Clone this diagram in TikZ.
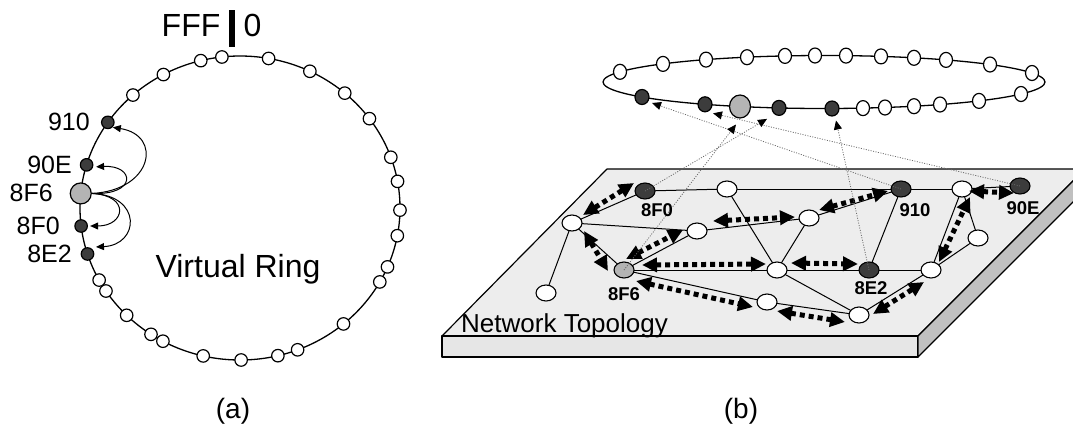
\documentclass[tikz,border=0pt]{standalone}
\usepackage{fontspec}
\setmainfont{Liberation Sans}
\usetikzlibrary{shapes.geometric,arrows.meta,calc}
\definecolor{dk}{HTML}{3C3C3C}
\definecolor{gr}{HTML}{B4B4B4}
\definecolor{topf}{HTML}{EDEDED}
\definecolor{frontf}{HTML}{E6E6E6}
\definecolor{sidef}{HTML}{C0C0C0}
\definecolor{dotc}{HTML}{6A6A6A}
\begin{document}
\begin{tikzpicture}[x=1pt,y=-1pt,line join=round,
  rw/.style={circle,draw,fill=white,line width=1.2pt,minimum size=12.5pt,inner sep=0pt},
  rd/.style={rw,fill=dk},
  rg/.style={circle,draw,fill=gr,line width=1.2pt,minimum size=21pt,inner sep=0pt},
  tw/.style={ellipse,draw,fill=white,line width=1.2pt,minimum width=13pt,minimum height=15pt,inner sep=0pt},
  td/.style={tw,fill=dk,minimum width=14pt},
  tg/.style={ellipse,draw,fill=gr,line width=1.2pt,minimum width=21pt,minimum height=23pt,inner sep=0pt},
  pw/.style={ellipse,draw,fill=white,line width=1.1pt,minimum width=20pt,minimum height=16pt,inner sep=0pt},
  pd/.style={pw,fill=dk},
  pg/.style={pw,fill=gr},
  lnk/.style={line width=1pt},
  dbl/.style={line width=5pt,dash pattern=on 5pt off 4pt,{Triangle[length=15pt,width=14pt]}-{Triangle[length=15pt,width=14pt]}},
  dotl/.style={dotc,line width=0.8pt,dash pattern=on 1pt off 1.5pt,-{Triangle[length=9pt,width=8pt,color=black]}},
  carr/.style={line width=1pt,-{Triangle[length=8pt,width=7pt]}},
  lbl/.style={inner sep=0pt,font=\fontsize{25}{28}\selectfont},
  plbl/.style={inner sep=0pt,font=\fontsize{18.5}{20}\selectfont\bfseries},
  big/.style={inner sep=0pt,font=\fontsize{32}{36}\selectfont}]
\useasboundingbox (0,0) rectangle (1073,424);
\clip (0,0) rectangle (1073,424);

% ---------------- (a) virtual ring ----------------
\draw[line width=1.3pt] (240,208) ellipse [x radius=160, y radius=152];
\foreach \a [count=\i] in {-104.2,-96.5,-79.7,-64.1,-49.1,-36,-19.5,-10.1,0.8,10.5,22.8,29.1,49.7,68.9,76.3,89.6,103.3,118.8,123.8,135.1,146.9,151.7,-118.6,-132}
  \node[rw] (lw\i) at ({240+160*cos(\a)},{208+152*sin(\a)}) {};
\node[rd] (l910) at ({240+160*cos(-145.7)},{208+152*sin(-145.7)}) {};
\node[rd] (l90E) at ({240+160*cos(-163.5)},{208+152*sin(-163.5)}) {};
\node[rg] (l8F6) at ({240+160*cos(-174.5)},{208+152*sin(-174.5)}) {};
\node[rd] (l8F0) at ({240+160*cos(173.2)},{208+152*sin(173.2)}) {};
\node[rd] (l8E2) at ({240+160*cos(162.4)},{208+152*sin(162.4)}) {};

\draw[carr] (l8F6.east) .. controls ($(l8F6)+(72,-3)$) and ($(l910)+(55,13)$) .. ($(l910)+(5,5)$);
\draw[carr] (l8F6.east) .. controls ($(l8F6)+(57,2)$) and ($(l90E)+(48,0)$) .. ($(l90E)+(9.5,2)$);
\draw[carr] (l8F6.east) .. controls ($(l8F6)+(50,2)$) and ($(l8F0)+(44,0)$) .. ($(l8F0)+(9,0)$);
\draw[carr] (l8F6.east) .. controls ($(l8F6)+(62,2)$) and ($(l8E2)+(52,-9)$) .. ($(l8E2)+(8.5,-7)$);

\node[lbl,anchor=east] (t1l) at (90,122) {910};
\node[lbl,anchor=east] (t2l) at (72,165) {90E};
\node[lbl,anchor=east] (t3l) at (53,193) {8F6};
\node[lbl,anchor=east] (t4l) at (60,226) {8F0};
\node[lbl,anchor=east] (t5l) at (72,254) {8E2};

\node[big,anchor=base west] (fff) at (161.5,36) {FFF};
\fill (229,10) rectangle (234.5,47);
\node[big,anchor=base west] (zero) at (243.5,36) {0};
\node[big,anchor=base] (vr) at (238,277) {Virtual Ring};
\node[inner sep=0pt,anchor=base,font=\fontsize{28}{30}\selectfont] (capa) at (233,418) {(a)};

% ---------------- (b) top ring ----------------
\draw[line width=1.3pt] (824,82) ellipse [x radius=221, y radius=26.5];
\foreach \x/\y [count=\i] in {620/71.8,663/63.9,706/59.6,747/57.2,785/55.9,815/55.5,846/55.6,881/56.4,914/57.8,946/59.9,990/64.5,1032/73,863/108.1,885/107.5,914/106.2,940/104.5,979/100.9,1021/94}
  \node[tw] (tw\i) at (\x,\y) {};
\node[td] (t910) at (642,97) {};
\node[td] (t90E) at (705,104.3) {};
\node[tg] (t8F6) at (740,106.5) {};
\node[td] (t8F0) at (779,107.9) {};
\node[td] (t8E2) at (832,108.5) {};

% ---------------- (b) platform ----------------
\filldraw[fill=topf,line width=1.2pt] (607,169) -- (1085,169) -- (918,336) -- (442,336) -- cycle;
\filldraw[fill=frontf,line width=1.2pt] (442,336) -- (918,336) -- (918,357) -- (442,357) -- cycle;
\filldraw[fill=sidef,line width=1.2pt] (918,336) -- (1085,169) -- (1085,190) -- (918,357) -- cycle;

\node[inner sep=0pt,anchor=base west,font=\fontsize{26}{28}\selectfont] (nt) at (461,332) {Network Topology};

\coordinate (c8F0) at (645,191);
\coordinate (cB) at (727,189);
\coordinate (cA) at (572,223);
\coordinate (cC) at (697,231);
\coordinate (c8F6) at (624,270);
\coordinate (cD) at (546,293);
\coordinate (cE) at (809,218);
\coordinate (cF) at (777,270);
\coordinate (c8E2) at (869,270);
\coordinate (cG) at (767,302);
\coordinate (cH) at (859,315);
\coordinate (c910) at (901,189);
\coordinate (cI) at (962,189);
\coordinate (c90E) at (1020,186);
\coordinate (cJ) at (978,238);
\coordinate (cK) at (931,270);

\foreach \a/\b in {8F0/B,B/910,910/I,I/90E,8F0/A,A/C,A/D,A/8F6,8F6/C,C/E,E/910,8F6/F,F/8E2,8E2/K,B/F,E/F,F/H,8F6/G,G/H,H/K,K/J,K/I,J/I,910/8E2}
  \draw[lnk] (c\a) -- (c\b);

\node[pd] (q8F0) at (c8F0) {};
\node[pw] (qB) at (cB) {};
\node[pw] (qA) at (cA) {};
\node[pw] (qC) at (cC) {};
\node[pg] (q8F6) at (c8F6) {};
\node[pw] (qD) at (cD) {};
\node[pw] (qE) at (cE) {};
\node[pw] (qF) at (cF) {};
\node[pd] (q8E2) at (c8E2) {};
\node[pw] (qG) at (cG) {};
\node[pw] (qH) at (cH) {};
\node[pd] (q910) at (c910) {};
\node[pw] (qI) at (cI) {};
\node[pd] (q90E) at (c90E) {};
\node[pw] (qJ) at (cJ) {};
\node[pw] (qK) at (cK) {};

\draw[dbl] ($(q8F0)+(-11,-8)$) -- ($(qA)+(11,-8)$);
\draw[dbl] ($(qA)+(12,8)$) -- ($(q8F6)+(-16,1)$);
\draw[dbl] ($(q8F6)+(2,-11)$) -- ($(qC)+(-14,-1)$);
\draw[dbl] ($(qC)+(16,-10)$) -- ($(qE)+(-14,-1)$);
\draw[dbl] ($(qE)+(10,-8)$) -- ($(q910)+(-13,2)$);
\draw[dbl] ($(q8F6)+(18,-5)$) -- ($(qF)+(-11,-6)$);
\draw[dbl] ($(qF)+(14,-7)$) -- ($(q8E2)+(-11,-6)$);
\draw[dbl] ($(q8F6)+(12,11)$) -- ($(qG)+(-14,5)$);
\draw[dbl] ($(qG)+(10,9)$) -- ($(qH)+(-14,7)$);
\draw[dbl] ($(qH)+(14,-1)$) -- ($(qK)+(-7,12)$);
\draw[dbl] ($(qK)+(8,-8)$) -- ($(qI)+(8,8)$);
\draw[dbl] ($(qI)+(7,2)$) -- ($(q90E)+(-6,7)$);

\draw[dotl] (q910.center) -- ($(t910)+(10,6)$);
\draw[dotl] (q90E.center) -- ($(t90E)+(8,9)$);
\draw[dotl] (q8F6.center) -- ($(t8F6)+(-4,18)$);
\draw[dotl] (q8F0.center) -- ($(t8F0)+(-12,11)$);
\draw[dotl] (q8E2.center) -- ($(t8E2)+(4,12)$);

\node[plbl] (l1) at (657,210) {8F0};
\node[plbl] (l2) at (624,294) {8F6};
\node[plbl] (l3) at (915,210) {910};
\node[plbl] (l4) at (1023,208) {90E};
\node[plbl] (l5) at (871,288) {8E2};

\node[inner sep=0pt,anchor=base,font=\fontsize{28}{30}\selectfont] (capb) at (741,418) {(b)};
\end{tikzpicture}
\end{document}
